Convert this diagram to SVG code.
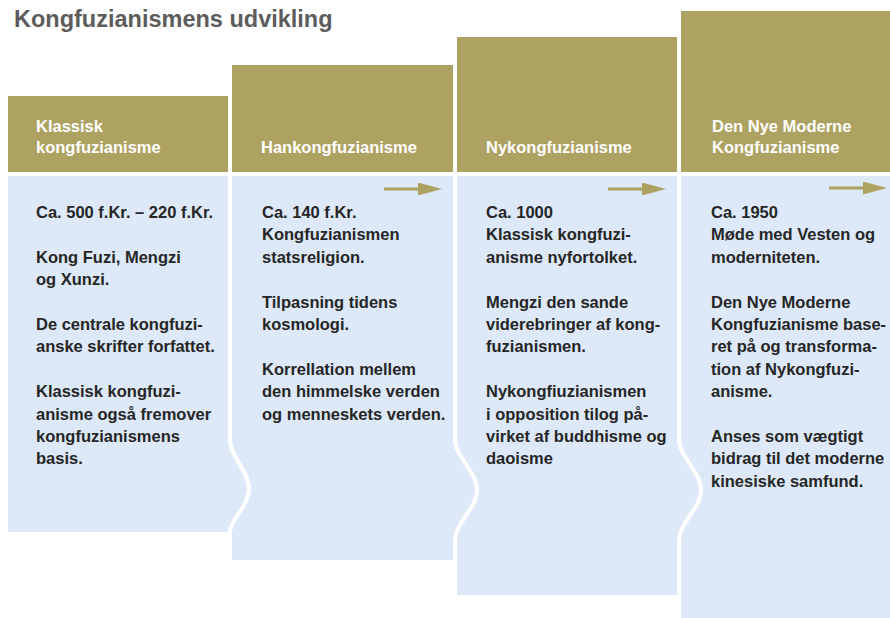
<svg xmlns="http://www.w3.org/2000/svg" width="890" height="618" viewBox="0 0 890 618">
<style>
.hdr{fill:#aea262}
.body{fill:#dde9f8;stroke:#ffffff;stroke-width:4;stroke-linejoin:round}
.ht{font-family:"Liberation Sans",Arial,sans-serif;font-weight:bold;font-size:16.5px;fill:#ffffff}
.bt{font-family:"Liberation Sans",Arial,sans-serif;font-weight:bold;font-size:16.5px;fill:#262626}
.title{font-family:"Liberation Sans",Arial,sans-serif;font-weight:bold;font-size:23.5px;fill:#5c5c5c}
.arr{stroke:#aea262;stroke-width:3;fill:none}
</style>
<defs>
<marker id="ah" markerUnits="userSpaceOnUse" markerWidth="24" markerHeight="13" refX="7" refY="6.5" orient="auto" viewBox="0 0 24 13">
<path d="M0,0 L24,6.5 L0,13 Z" fill="#aea262"/>
</marker>
</defs>
<rect width="890" height="618" fill="#ffffff"/>
<text class="title" x="14" y="27">Kongfuzianismens udvikling</text>

<g id="col4">
<rect class="hdr" x="681" y="11" width="209" height="161"/>
<path class="body" d="M679,174 H896 V626 H679 Z"/>
<text class="ht"><tspan x="712" y="132">Den Nye Moderne</tspan><tspan x="712" y="153">Kongfuzianisme</tspan></text>
<text class="bt">
<tspan x="711" y="218">Ca. 1950</tspan>
<tspan x="711" y="240.4">Møde med Vesten og</tspan>
<tspan x="711" y="262.8">moderniteten.</tspan>
<tspan x="711" y="307.6">Den Nye Moderne</tspan>
<tspan x="711" y="330">Kongfuzianisme base-</tspan>
<tspan x="711" y="352.4">ret på og transforma-</tspan>
<tspan x="711" y="374.8">tion af Nykongfuzi-</tspan>
<tspan x="711" y="397.2">anisme.</tspan>
<tspan x="711" y="442">Anses som vægtigt</tspan>
<tspan x="711" y="464.4">bidrag til det moderne</tspan>
<tspan x="711" y="486.8">kinesiske samfund.</tspan>
</text>
</g>

<g id="col3">
<rect class="hdr" x="457" y="37" width="220" height="135"/>
<path class="body" d="M455,174 H679 V440 C679,456 701,472 701,490 C701,508 679,524 679,540 V597 H455 Z"/>
<text class="ht" x="486" y="153">Nykongfuzianisme</text>
<text class="bt">
<tspan x="486" y="218">Ca. 1000</tspan>
<tspan x="486" y="240.4">Klassisk kongfuzi-</tspan>
<tspan x="486" y="262.8">anisme nyfortolket.</tspan>
<tspan x="486" y="307.6">Mengzi den sande</tspan>
<tspan x="486" y="330">viderebringer af kong-</tspan>
<tspan x="486" y="352.4">fuzianismen.</tspan>
<tspan x="486" y="397.2">Nykongfiuzianismen</tspan>
<tspan x="486" y="419.6">i opposition tilog på-</tspan>
<tspan x="486" y="442">virket af buddhisme og</tspan>
<tspan x="486" y="464.4">daoisme</tspan>
</text>
</g>

<g id="col2">
<rect class="hdr" x="232" y="65" width="221" height="107"/>
<path class="body" d="M230,174 H455 V440 C455,456 477,472 477,490 C477,508 455,524 455,540 V562 H230 Z"/>
<text class="ht" x="261" y="153">Hankongfuzianisme</text>
<text class="bt">
<tspan x="262" y="218">Ca. 140 f.Kr.</tspan>
<tspan x="262" y="240.4">Kongfuzianismen</tspan>
<tspan x="262" y="262.8">statsreligion.</tspan>
<tspan x="262" y="307.6">Tilpasning tidens</tspan>
<tspan x="262" y="330">kosmologi.</tspan>
<tspan x="262" y="374.8">Korrellation mellem</tspan>
<tspan x="262" y="397.2">den himmelske verden</tspan>
<tspan x="262" y="419.6">og menneskets verden.</tspan>
</text>
</g>

<g id="col1">
<rect class="hdr" x="8" y="96" width="220" height="76"/>
<path class="body" d="M6,174 H230 V440 C230,456 249,472 249,488 C249,506 230,520 230,532 V534 H6 Z"/>
<text class="ht"><tspan x="36" y="132">Klassisk</tspan><tspan x="36" y="153">kongfuzianisme</tspan></text>
<text class="bt">
<tspan x="36" y="218">Ca. 500 f.Kr. – 220 f.Kr.</tspan>
<tspan x="36" y="262.8">Kong Fuzi, Mengzi</tspan>
<tspan x="36" y="285.2">og Xunzi.</tspan>
<tspan x="36" y="330">De centrale kongfuzi-</tspan>
<tspan x="36" y="352.4">anske skrifter forfattet.</tspan>
<tspan x="36" y="397.2">Klassisk kongfuzi-</tspan>
<tspan x="36" y="419.6">anisme også fremover</tspan>
<tspan x="36" y="442">kongfuzianismens</tspan>
<tspan x="36" y="464.4">basis.</tspan>
</text>
</g>

<g id="connectors">
<line class="arr" x1="384" y1="189" x2="425" y2="189" marker-end="url(#ah)"/>
<line class="arr" x1="608" y1="189" x2="649" y2="189" marker-end="url(#ah)"/>
<line class="arr" x1="829" y1="188" x2="870" y2="188" marker-end="url(#ah)"/>
</g>
</svg>
